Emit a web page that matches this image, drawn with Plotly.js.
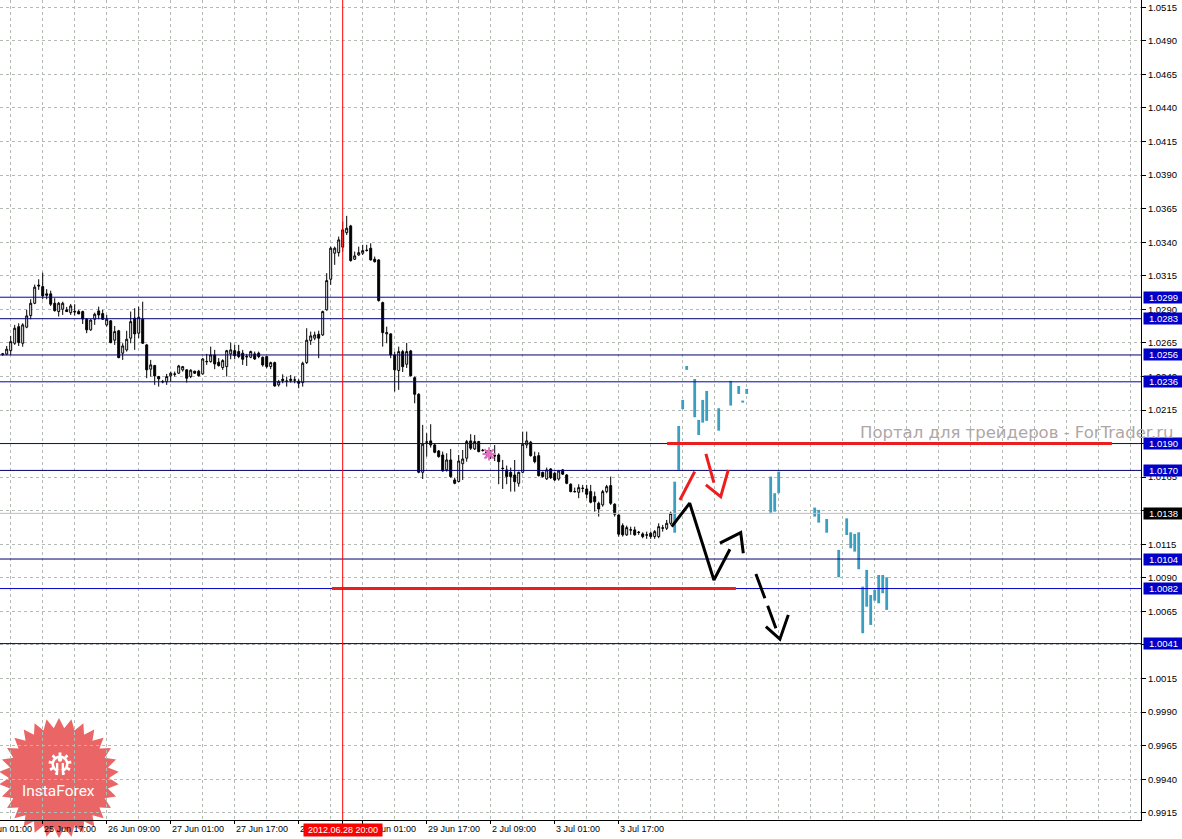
<!DOCTYPE html>
<html><head><meta charset="utf-8">
<script src="https://cdn.plot.ly/plotly-3.0.1.min.js"></script>
<style>html,body{margin:0;padding:0;background:#fff}#chart{width:1182px;height:839px}</style>
</head><body><div id="chart"></div>
<script>
// ---------- H1 candles ----------
const candleOpen = [1.02564,1.02566,1.02592,1.02647,1.02771,1.02647,1.02767,1.02853,1.02945,1.03080,
1.03069,1.03015,1.03015,1.02945,1.02883,1.02901,1.02896,1.02875,1.02885,1.02883,
1.02883,1.02826,1.02747,1.02826,1.02888,1.02868,1.02784,1.02814,1.02670,1.02740,
1.02573,1.02598,1.02685,1.02834,1.02722,1.02826,1.02635,1.02454,1.02481,1.02399,
1.02362,1.02361,1.02404,1.02416,1.02424,1.02449,1.02449,1.02399,1.02439,1.02439,
1.02419,1.02512,1.02510,1.02560,1.02506,1.02466,1.02473,1.02568,1.02592,1.02585,
1.02573,1.02550,1.02543,1.02568,1.02573,1.02543,1.02548,1.02473,1.02503,1.02337,
1.02379,1.02366,1.02369,1.02374,1.02364,1.02354,1.02503,1.02667,1.02685,1.02714,
1.02709,1.02896,1.03124,1.03318,1.03322,1.03363,1.03471,1.03521,1.03273,1.03305,
1.03318,1.03338,1.03355,1.03273,1.03268,1.02950,1.02717,1.02717,1.02560,1.02444,
1.02585,1.02491,1.02590,1.02391,1.02267,1.01686,1.01910,1.01920,1.01890,1.01845,
1.01815,1.01704,1.01778,1.01629,1.01617,1.01750,1.01791,1.01920,1.01860,1.01915,
1.01848,1.01845,1.01815,1.01810,1.01815,1.01716,1.01704,1.01686,1.01666,1.01604,
1.01686,1.01890,1.01910,1.01803,1.01810,1.01686,1.01637,1.01711,1.01679,1.01636,
1.01704,1.01666,1.01597,1.01543,1.01537,1.01568,1.01562,1.01542,1.01505,1.01455,
1.01443,1.01542,1.01587,1.01448,1.01368,1.01289,1.01220,1.01258,1.01257,1.01240,
1.01227,1.01220,1.01232,1.01207,1.01207,1.01272,1.01269,1.01306];
const candleHigh = [1.02575,1.02627,1.02702,1.02784,1.02796,1.02796,1.02896,1.02975,1.03084,1.03124,
1.03173,1.03050,1.03039,1.02983,1.02955,1.02957,1.02918,1.02940,1.02938,1.02896,
1.02890,1.02834,1.02826,1.02875,1.02920,1.02896,1.02858,1.02820,1.02776,1.02747,
1.02647,1.02740,1.02883,1.02908,1.02920,1.02957,1.02642,1.02523,1.02486,1.02404,
1.02374,1.02419,1.02436,1.02436,1.02486,1.02478,1.02454,1.02454,1.02443,1.02449,
1.02538,1.02568,1.02622,1.02598,1.02536,1.02528,1.02598,1.02652,1.02635,1.02635,
1.02598,1.02568,1.02592,1.02585,1.02585,1.02548,1.02553,1.02510,1.02510,1.02374,
1.02416,1.02399,1.02411,1.02399,1.02379,1.02510,1.02759,1.02734,1.02734,1.02741,
1.02890,1.03169,1.03367,1.03367,1.03442,1.03553,1.03596,1.03529,1.03330,1.03367,
1.03380,1.03380,1.03392,1.03293,1.03273,1.02957,1.02771,1.02722,1.02585,1.02622,
1.02598,1.02650,1.02598,1.02399,1.02275,1.02039,1.01977,1.02044,1.01902,1.01852,
1.01840,1.01828,1.01860,1.01646,1.01815,1.01852,1.01927,1.01970,1.01964,1.01920,
1.01860,1.01852,1.01852,1.01889,1.01828,1.01778,1.01736,1.01721,1.01778,1.01691,
1.01989,1.01989,1.01920,1.01840,1.01835,1.01691,1.01721,1.01716,1.01691,1.01704,
1.01711,1.01672,1.01604,1.01572,1.01597,1.01592,1.01592,1.01592,1.01542,1.01467,
1.01555,1.01592,1.01654,1.01455,1.01373,1.01306,1.01289,1.01281,1.01281,1.01249,
1.01239,1.01244,1.01244,1.01256,1.01306,1.01294,1.01331,1.01393];
const candleLow = [1.02553,1.02558,1.02560,1.02635,1.02627,1.02622,1.02759,1.02826,1.02938,1.03045,
1.02975,1.02975,1.02925,1.02883,1.02846,1.02858,1.02881,1.02858,1.02853,1.02864,
1.02791,1.02722,1.02740,1.02784,1.02826,1.02821,1.02771,1.02647,1.02635,1.02536,
1.02523,1.02585,1.02647,1.02598,1.02685,1.02642,1.02387,1.02399,1.02337,1.02324,
1.02349,1.02337,1.02361,1.02399,1.02419,1.02436,1.02354,1.02387,1.02419,1.02399,
1.02414,1.02486,1.02503,1.02454,1.02473,1.02449,1.02399,1.02528,1.02528,1.02536,
1.02486,1.02478,1.02536,1.02523,1.02536,1.02473,1.02461,1.02454,1.02324,1.02324,
1.02349,1.02324,1.02354,1.02349,1.02312,1.02324,1.02493,1.02635,1.02670,1.02536,
1.02702,1.02890,1.03082,1.03231,1.03293,1.03330,1.03454,1.03255,1.03268,1.03298,
1.03305,1.03330,1.03263,1.03248,1.02957,1.02622,1.02647,1.02536,1.02287,1.02300,
1.02433,1.02463,1.02399,1.02200,1.01679,1.01636,1.01803,1.01870,1.01828,1.01795,
1.01691,1.01691,1.01646,1.01597,1.01612,1.01629,1.01765,1.01852,1.01852,1.01835,
1.01840,1.01791,1.01785,1.01770,1.01597,1.01562,1.01597,1.01542,1.01542,1.01579,
1.01679,1.01865,1.01803,1.01753,1.01654,1.01646,1.01629,1.01636,1.01621,1.01624,
1.01666,1.01597,1.01537,1.01537,1.01493,1.01537,1.01493,1.01455,1.01393,1.01356,
1.01430,1.01530,1.01443,1.01356,1.01207,1.01207,1.01212,1.01220,1.01214,1.01220,
1.01195,1.01190,1.01190,1.01190,1.01195,1.01244,1.01256,1.01294];
const candleClose = [1.02568,1.02603,1.02659,1.02759,1.02652,1.02784,1.02851,1.02945,1.03065,1.03074,
1.03000,1.03005,1.02938,1.02890,1.02945,1.02945,1.02883,1.02925,1.02881,1.02866,
1.02828,1.02747,1.02820,1.02863,1.02858,1.02826,1.02826,1.02652,1.02734,1.02540,
1.02627,1.02677,1.02808,1.02717,1.02841,1.02647,1.02449,1.02486,1.02404,1.02382,
1.02360,1.02399,1.02424,1.02418,1.02478,1.02473,1.02387,1.02446,1.02424,1.02406,
1.02530,1.02510,1.02560,1.02493,1.02481,1.02518,1.02592,1.02598,1.02555,1.02548,
1.02528,1.02546,1.02585,1.02530,1.02548,1.02486,1.02473,1.02503,1.02329,1.02361,
1.02369,1.02364,1.02379,1.02373,1.02349,1.02498,1.02670,1.02702,1.02709,1.02685,
1.02883,1.03114,1.03355,1.03355,1.03417,1.03492,1.03504,1.03263,1.03298,1.03322,
1.03337,1.03340,1.03268,1.03255,1.02965,1.02726,1.02726,1.02560,1.02449,1.02585,
1.02473,1.02585,1.02406,1.02267,1.01686,1.01895,1.01912,1.01890,1.01835,1.01803,
1.01696,1.01778,1.01654,1.01604,1.01770,1.01785,1.01915,1.01865,1.01915,1.01840,
1.01850,1.01815,1.01813,1.01808,1.01765,1.01714,1.01654,1.01654,1.01616,1.01686,
1.01895,1.01920,1.01810,1.01765,1.01661,1.01654,1.01704,1.01646,1.01629,1.01696,
1.01672,1.01604,1.01542,1.01541,1.01572,1.01566,1.01522,1.01463,1.01467,1.01413,
1.01542,1.01579,1.01455,1.01373,1.01225,1.01220,1.01274,1.01256,1.01220,1.01238,
1.01207,1.01218,1.01207,1.01244,1.01281,1.01270,1.01306,1.01380];

// ---------- projected (future) bars: bar index, high, low ----------
const projIndex = [168,169,170,171,173,174,175,176,179,182,184,185,186,192,193,194,203,204,206,209,211,212,213,214,215,216,217,218,219,220,221];
const projHigh = [1.01616,1.02031,1.02225,1.02478,1.02381,1.02076,1.02225,1.02292,1.02163,1.02367,1.02329,1.02220,1.02307,1.01654,1.01530,1.01691,1.01423,1.01406,1.01338,1.01108,1.01343,1.01239,1.01227,1.01239,1.00834,1.00959,1.00772,1.00810,1.00921,1.00921,1.00904];
const projLow = [1.01236,1.01704,1.02156,1.02449,1.02096,1.01964,1.02056,1.02069,1.01996,1.02183,1.02270,1.02205,1.02270,1.01385,1.01393,1.01530,1.01356,1.01311,1.01236,1.00904,1.01219,1.01120,1.01095,1.00964,1.00487,1.00685,1.00549,1.00730,1.00710,1.00785,1.00661];

// ---------- horizontal levels ----------
const levelsBlue = [1.0299, 1.0236, 1.0190, 1.0082];
const levelsNavy = [1.0283, 1.0256, 1.0170, 1.0104, 1.0041];
const currentPrice = 1.0138;

// ---------- hand-drawn objects (bar index, price) ----------
const redHLineX = [82.3, 183.3, null, 166.1, 277.3];
const redHLineY = [1.0082, 1.0082, null, 1.0190, 1.0190];
const redArrowX = [169.3, 173.0, null, 175.8, 177.8, null, 175.8, 179.5, 181.4];
const redArrowY = [1.01480, 1.01691, null, 1.01823, 1.01609, null, 1.01592, 1.01505, 1.01704];
const blackZigX = [167.25, 171.75, 177.8, 181.8, null, 179.3, 184.5, 185.15];
const blackZigY = [1.01281, 1.01456, 1.00884, 1.01113, null, 1.01158, 1.01237, 1.01083];
const blackDashX = [188.3, 193.3];
const blackDashY = [1.00929, 1.00525];
const blackHeadX = [190.8, 194.3, 196.4];
const blackHeadY = [1.00536, 1.00443, 1.00624];
const markIndex = [121.6];
const markPrice = [1.01823];
const selectedBar = 85;

// ---------- time axis ----------
const timeTickIndex = [-6, 10, 26, 42, 58, 74, 90, 106, 122, 138, 154];
const timeTickText = ['25 Jun 01:00','25 Jun 17:00','26 Jun 09:00','27 Jun 01:00','27 Jun 17:00','28 Jun 09:00','29 Jun 01:00','29 Jun 17:00','2 Jul 09:00','3 Jul 01:00','3 Jul 17:00'];
const selectedText = '2012.06.28 20:00';

// ---------- build ----------
const barIdx = candleOpen.map((_, k) => k);
const PW = 1141, PH = 820;
const XR = [-0.675, 284.575];
const FONT = 'Liberation Sans, Arial, sans-serif';

const traces = [];
traces.push({type:'scatter', mode:'lines', x:[-5, 300], y:[currentPrice, currentPrice],
  line:{color:'#c8b8c8', width:1}, hoverinfo:'skip'});
traces.push({type:'candlestick', x:barIdx, open:candleOpen, high:candleHigh, low:candleLow, close:candleClose,
  increasing:{line:{color:'#000', width:1}, fillcolor:'#ffffff'},
  decreasing:{line:{color:'#000', width:1}, fillcolor:'#000000'},
  whiskerwidth:0, hoverinfo:'skip'});
traces.push({type:'bar', x:projIndex, base:projLow, y:projHigh.map((h,k)=>h-projLow[k]),
  width:0.7, marker:{color:'#3a9fc0', line:{width:0}}, hoverinfo:'skip'});
function levelTrace(arr, color){
  const x=[], y=[];
  arr.forEach(v=>{x.push(-5,300,null); y.push(v,v,null);});
  return {type:'scatter', mode:'lines', x, y, line:{color, width:1}, hoverinfo:'skip'};
}
traces.push(levelTrace(levelsBlue, '#0000c0'));
traces.push(levelTrace(levelsNavy, '#000070'));
traces.push({type:'scatter', mode:'lines', x:redHLineX, y:redHLineY, line:{color:'#e82020', width:3}, hoverinfo:'skip'});
traces.push({type:'scatter', mode:'lines', x:redArrowX, y:redArrowY, line:{color:'#ee1c1c', width:3}, hoverinfo:'skip'});
traces.push({type:'scatter', mode:'lines', x:blackZigX, y:blackZigY, line:{color:'#000', width:3}, hoverinfo:'skip'});
traces.push({type:'scatter', mode:'lines', x:blackDashX, y:blackDashY, line:{color:'#000', width:3, dash:'26px,8px'}, hoverinfo:'skip'});
traces.push({type:'scatter', mode:'lines', x:blackHeadX, y:blackHeadY, line:{color:'#000', width:3}, hoverinfo:'skip'});
traces.push({type:'scatter', mode:'markers', x:markIndex, y:markPrice,
  marker:{symbol:'asterisk-open', size:11, color:'#e070c0', line:{color:'#e070c0', width:2}}, hoverinfo:'skip'});

// logo geometry (decoration)
function px2paper(x, y){ return (x/PW).toFixed(5)+','+(1-y/PH).toFixed(5); }
function starPath(cx, cy, R, r, n){
  let d='';
  for(let k=0;k<2*n;k++){
    const a=-Math.PI/2+k*Math.PI/n, rad=(k%2===0)?R:r;
    d+=(k===0?'M':'L')+px2paper(cx+rad*Math.cos(a), cy+rad*Math.sin(a));
  }
  return d+'Z';
}
function gearPath(cx, cy, Ro, Ri, n){
  let d='';
  const step=2*Math.PI/n;
  for(let k=0;k<n;k++){
    const a=-Math.PI/2+k*step;
    const pts=[[Ri,a-step*0.5],[Ri,a-step*0.22],[Ro,a-step*0.18],[Ro,a+step*0.18],[Ri,a+step*0.22]];
    pts.forEach((p,j)=>{d+=((k===0&&j===0)?'M':'L')+px2paper(cx+p[0]*Math.cos(p[1]), cy+p[0]*Math.sin(p[1]));});
  }
  return d+'Z';
}
function circ(cx, cy, r, color){
  return {type:'circle', xref:'paper', yref:'paper', x0:(cx-r)/PW, x1:(cx+r)/PW, y0:1-(cy+r)/PH, y1:1-(cy-r)/PH,
    fillcolor:color, line:{width:0}, layer:'below'};
}
function rectS(x0,y0,x1,y1,color){
  return {type:'rect', xref:'paper', yref:'paper', x0:x0/PW, x1:x1/PW, y0:1-y1/PH, y1:1-y0/PH, fillcolor:color, line:{width:0}, layer:'below'};
}
const shapes = [
  {type:'path', xref:'paper', yref:'paper', path:starPath(59, 778, 60, 50, 30), fillcolor:'rgba(228,58,58,0.78)', line:{width:0}, layer:'below'},
  {type:'path', xref:'paper', yref:'paper', path:gearPath(60, 764, 11.5, 8.5, 9), fillcolor:'#ffffff', line:{width:0}, layer:'below'},
  circ(60, 764, 6, '#ea6a6a'),
  circ(60, 759.5, 2.2, '#ffffff'),
  rectS(56, 763, 58.3, 775, '#ffffff'),
  rectS(61.7, 763, 64, 775, '#ffffff'),
  rectS(58.3, 770, 61.7, 776, '#ea6a6a'),
  {type:'line', xref:'x', yref:'paper', x0:selectedBar, x1:selectedBar, y0:0, y1:1, line:{color:'#ff0000', width:1}}
];

const annotations = [];
timeTickIndex.forEach((v,k)=>{
  annotations.push({xref:'paper', yref:'paper', x:(v-XR[0])/(XR[1]-XR[0]), y:0, xanchor:'left', yanchor:'top', yshift:-2, xshift:-1,
    text:timeTickText[k], showarrow:false, font:{family:FONT, size:9, color:'#000'}});
});
annotations.push({xref:'x', yref:'paper', x:selectedBar, y:0, xanchor:'center', yanchor:'top', yshift:-3,
  text:selectedText, showarrow:false, bgcolor:'#ff0000', width:76, height:10, borderpad:1,
  font:{family:FONT, size:9, color:'#fff'}});
function levelLabel(v, bg){
  annotations.push({xref:'paper', yref:'y', x:1, y:v, xanchor:'left', yanchor:'middle', xshift:2,
    text:v.toFixed(4), showarrow:false, bgcolor:bg, width:37, height:9, borderpad:1,
    font:{family:FONT, size:9.5, color:'#fff'}});
}
levelsBlue.forEach(v=>levelLabel(v,'#0000c8'));
levelsNavy.forEach(v=>levelLabel(v,'#0000c8'));
levelLabel(currentPrice, '#000000');
annotations.push({xref:'paper', yref:'paper', x:1176/PW, y:1-432/PH, xanchor:'right', yanchor:'middle',
  text:'Портал для трейдеров - ForTrader.ru', showarrow:false,
  font:{family:'DejaVu Sans, sans-serif', size:16.5, color:'#b0a6a6'}});
annotations.push({xref:'paper', yref:'paper', x:59/PW, y:1-791/PH, xanchor:'center', yanchor:'middle',
  text:'InstaForex', showarrow:false, font:{family:'Roboto, sans-serif', size:15.5, color:'#ffffff'}});

const gridC = '#b4bab4';
const layout = {
  width:1182, height:839,
  margin:{l:0, r:41, t:0, b:19, pad:0},
  paper_bgcolor:'#ffffff', plot_bgcolor:'rgba(0,0,0,0)',
  showlegend:false, hovermode:false,
  boxgap:0.3, boxgroupgap:0.3,
  xaxis:{range:XR, rangeslider:{visible:false}, showline:true, linecolor:'#000', linewidth:1,
    tickmode:'array', tickvals:timeTickIndex.concat([selectedBar]), ticks:'outside', ticklen:3, tickcolor:'#000',
    showticklabels:false, showgrid:false, zeroline:false,
    minor:{tickmode:'linear', tick0:2, dtick:8, showgrid:true, gridcolor:gridC, griddash:'3px,3px', gridwidth:1, ticks:''}},
  yaxis:{range:[0.99096, 1.05204], side:'right', tickmode:'linear', tick0:0.9915, dtick:0.0025, tickformat:'.4f',
    ticks:'outside', ticklen:4, tickcolor:'#000', showline:true, linecolor:'#000', linewidth:1,
    showgrid:true, gridcolor:gridC, griddash:'3px,3px', zeroline:false,
    tickfont:{family:FONT, size:9.5, color:'#000'}},
  shapes, annotations
};
Plotly.newPlot('chart', traces, layout, {staticPlot:true, displayModeBar:false});
</script></body></html>
